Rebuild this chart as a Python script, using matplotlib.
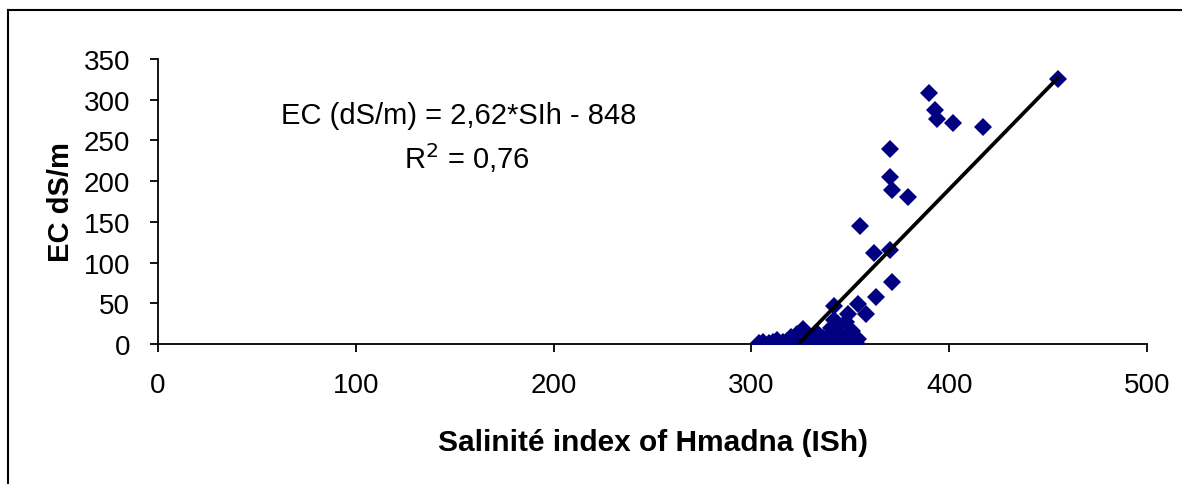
import numpy as np
import matplotlib.pyplot as plt
from matplotlib.lines import Line2D

plt.rcParams['font.family'] = ['Liberation Sans', 'DejaVu Sans']

# salinity index (ISh) vs electrical conductivity (dS/m)
ish = [304, 306, 309, 311, 313, 314, 316, 318, 319, 320, 322, 323, 325, 326,
       327, 329, 330, 332, 333, 334, 335, 336, 338, 339, 340, 340, 341, 342,
       342, 343, 344, 345, 346, 347, 348, 349, 350, 351, 352, 353, 354, 354,
       358, 349, 363, 371, 362, 370, 355, 379, 371, 370, 370, 417, 402, 394,
       393, 390, 455]
ec = [1, 2, 1, 3, 5, 0, 2, 4, 1, 8, 3, 12, 6, 18,
      2, 9, 1, 4, 14, 0, 2, 7, 3, 10, 20, 1, 5, 30,
      47, 2, 25, 12, 4, 8, 27, 37, 2, 16, 6, 1, 49, 6,
      37, 3, 58, 76, 112, 115, 145, 181, 189, 205, 239, 267, 272, 276,
      287, 308, 326]

trend_x = [323.6, 455.5]
trend_slope = 2.49
trend_intercept = -806

equation = "EC (dS/m) = 2,62*SIh - 848"
r2_text = "R$^2$ = 0,76"

fig = plt.figure(figsize=(11.82, 4.85), dpi=100)
ax = fig.add_axes([158 / 1182, 1 - 345 / 485, (1147 - 158) / 1182, (345 - 60) / 485])

ax.plot(ish, ec, linestyle='none', marker='D', markersize=9,
        color='#000080', markeredgewidth=0, zorder=3)
tx = np.array(trend_x)
ax.plot(tx, trend_slope * tx + trend_intercept, color='black', lw=2.7, zorder=4,
        solid_capstyle='butt')

ax.set_xlim(0, 500)
ax.set_ylim(0, 350)
ax.set_xticks(range(0, 501, 100))
ax.set_yticks(range(0, 351, 50))
for side in ['top', 'right']:
    ax.spines[side].set_visible(False)
for side in ['left', 'bottom']:
    ax.spines[side].set_linewidth(1.3)
ax.tick_params(labelsize=20, length=6, width=1.3, direction='out')
ax.tick_params(axis='y', pad=14)
ax.tick_params(axis='x', pad=14)

ax.set_xlabel("Salinité index of Hmadna (ISh)", fontsize=21.5, fontweight='bold', labelpad=22)
ax.set_ylabel("EC dS/m", fontsize=21, fontweight='bold', labelpad=6)

ax.text(152, 281, equation, fontsize=21, ha='center', va='center')
ax.text(156, 229, r2_text, fontsize=21, ha='center', va='center')

# outer frame of the original figure
fig.add_artist(Line2D([8 / 1182, 8 / 1182], [0, 1 - 11 / 485], color='black', lw=1.5))
fig.add_artist(Line2D([8 / 1182, 1], [1 - 11 / 485, 1 - 11 / 485], color='black', lw=1.5))

fig.savefig("out.png", dpi=100)
